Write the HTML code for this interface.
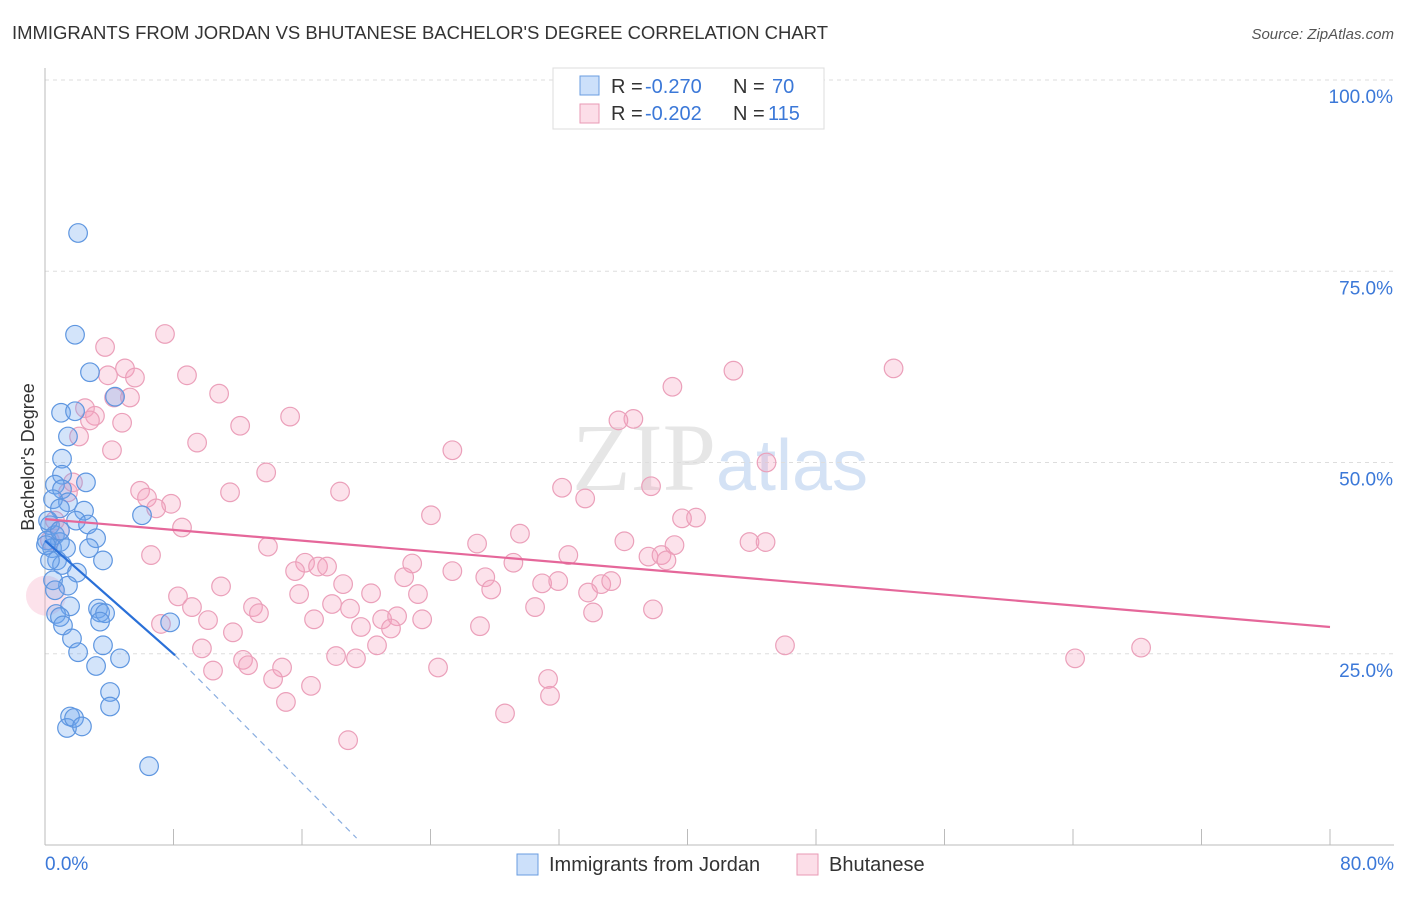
<!DOCTYPE html>
<html><head><meta charset="utf-8"><style>
body{margin:0;background:#fff;font-family:"Liberation Sans",sans-serif;}
</style></head><body>
<svg id="chart" width="1406" height="892" xmlns="http://www.w3.org/2000/svg" font-family="Liberation Sans, sans-serif">
<text x="12" y="39" font-size="18.5" fill="#333" textLength="816">IMMIGRANTS FROM JORDAN VS BHUTANESE BACHELOR'S DEGREE CORRELATION CHART</text>
<text x="1394" y="39" font-size="15" fill="#555" text-anchor="end" font-style="italic">Source: ZipAtlas.com</text>
<text x="720" y="490" font-size="96" fill="#e6e6e6" text-anchor="middle" font-family="Liberation Serif, serif">ZIP<tspan fill="#d4e2f5" font-family="Liberation Sans, sans-serif" font-size="72">atlas</tspan></text>
<g id="grid"></g><g id="axes"></g><g id="pts"></g><g id="trends"></g>
<text transform="translate(34,457) rotate(-90)" font-size="18" fill="#333" text-anchor="middle">Bachelor's Degree</text>
<g>
<rect x="553" y="68" width="271" height="61" fill="#fff" stroke="#ddd"/>
<rect x="580" y="76" width="19" height="19" fill="rgba(110,165,240,0.35)" stroke="#6a9de0"/>
<rect x="580" y="104" width="19" height="19" fill="rgba(245,160,190,0.35)" stroke="#e99ab5"/>
<text x="611" y="93" font-size="20" fill="#333">R =</text>
<text x="645" y="93" font-size="20" fill="#3b78d8">-0.270</text>
<text x="733" y="93" font-size="20" fill="#333">N =</text>
<text x="772" y="93" font-size="20" fill="#3b78d8">70</text>
<text x="611" y="120" font-size="20" fill="#333">R =</text>
<text x="645" y="120" font-size="20" fill="#3b78d8">-0.202</text>
<text x="733" y="120" font-size="20" fill="#333">N =</text>
<text x="768" y="120" font-size="20" fill="#3b78d8">115</text>
</g>
<g>
<rect x="517" y="854" width="21" height="21" fill="rgba(110,165,240,0.35)" stroke="#6a9de0"/>
<text x="549" y="871" font-size="20" fill="#333">Immigrants from Jordan</text>
<rect x="797" y="854" width="21" height="21" fill="rgba(245,160,190,0.35)" stroke="#e99ab5"/>
<text x="829" y="871" font-size="20" fill="#333">Bhutanese</text>
</g>
</svg>
<script>
const blueX=[2.06,1.87,2.80,4.36,1.0,1.87,1.43,1.06,1.06,2.55,0.62,1.06,1.43,2.43,0.5,0.93,6.04,1.93,2.68,0.31,0.62,3.18,0.93,0.12,0.44,2.74,1.31,3.61,0.75,1.06,1.99,1.43,0.5,3.3,1.56,0.69,3.43,3.74,0.93,1.12,3.43,1.68,7.79,3.61,2.06,3.18,4.67,4.05,4.05,1.56,1.37,1.81,2.3,6.48,0.31,0.19,0.62,0.93,0.06];
const blueY=[80.0,66.7,61.8,58.6,56.5,56.7,53.4,50.5,48.4,47.4,47.1,46.5,44.8,43.7,45.2,44.0,43.1,42.4,41.9,41.8,40.5,40.1,39.6,39.8,38.8,38.8,38.8,37.2,37.2,36.6,35.6,33.9,34.6,30.9,31.2,30.2,30.4,30.3,29.8,28.7,29.2,27.0,29.1,26.1,25.2,23.4,24.4,20.0,18.1,16.8,15.3,16.6,15.5,10.3,37.2,42.4,33.3,41.1,39.2];
const pinkX=[3.74,7.47,4.98,5.6,8.84,3.92,4.3,5.29,2.49,3.11,2.8,4.8,2.12,10.84,12.15,15.26,9.47,4.17,42.86,39.06,52.83,36.63,35.7,25.36,44.92,13.77,5.92,6.35,7.85,6.92,1.74,1.43,11.52,18.37,32.19,33.63,37.73,8.53,24.03,29.57,39.66,40.53,26.9,13.88,6.6,36.07,39.19,43.86,44.86,32.58,37.57,38.38,38.69,29.16,16.19,15.57,17.0,17.56,22.86,22.36,25.36,27.41,27.78,18.56,10.96,30.95,31.95,34.63,35.25,33.81,8.28,15.82,20.3,23.22,9.15,12.95,17.87,18.99,13.32,16.75,10.15,20.99,21.92,23.48,30.51,34.12,37.85,7.22,19.67,21.54,27.08,11.7,9.77,20.67,46.07,68.24,64.13,12.33,12.64,18.12,19.36,10.46,14.76,24.47,14.2,16.56,31.32,31.44,15.0,28.64,18.87,0.93,0.62,0.31];
const pinkY=[65.1,66.8,62.3,61.1,61.4,61.4,58.5,58.5,57.1,56.1,55.5,55.2,53.4,59.0,54.8,56.0,52.6,51.6,62.0,59.9,62.3,55.7,55.5,51.6,50.0,48.7,46.3,45.4,44.6,44.0,47.4,46.1,46.1,46.2,46.7,45.3,46.9,41.5,43.1,40.7,42.7,42.8,39.4,39.0,37.9,39.7,39.2,39.6,39.6,37.9,37.7,37.9,37.2,36.9,36.9,35.8,36.4,36.4,36.8,35.0,35.8,35.0,33.4,34.1,33.8,34.2,34.5,34.1,34.5,33.0,32.5,32.8,32.9,32.8,31.1,31.1,31.5,30.9,30.3,29.5,29.4,29.5,29.9,29.5,31.1,30.4,30.8,28.9,28.5,28.3,28.6,27.8,25.7,26.1,26.1,25.8,24.4,24.2,23.5,24.7,24.4,22.8,23.2,23.2,21.7,20.8,21.7,19.5,18.7,17.2,13.7,41.1,42.4,39.8];
const bigPink=[0.06,32.6];
const blueTrend=[[0,39.8],[8.1,24.8]];
const blueDash=[[8.1,24.8],[19.4,0.9]];
const pinkTrend=[[0,42.6],[80,28.5]];
const yTicks=[25,50,75,100];
const xTicks=[0,8,16,24,32,40,48,56,64,72,80];
const sx=v=>45+v*(1285/80);
const sy=v=>845-v*(765/100);
const NS='http://www.w3.org/2000/svg';
function mk(parent,tag,attrs){const e=document.createElementNS(NS,tag);for(const k in attrs)e.setAttribute(k,attrs[k]);document.getElementById(parent).appendChild(e);return e;}
yTicks.forEach(t=>{
 const l=mk('grid','line',{x1:45,x2:1394,y1:sy(t),y2:sy(t),stroke:'#ddd','stroke-dasharray':'4,4'});
 
 
 const tx=mk('grid','text',{x:1393,y:sy(t)+23,'font-size':19,fill:'#3b78d8','text-anchor':'end'});
 tx.textContent=t.toFixed(1)+'%';
 
 
});
const ax=mk('axes','line',{x1:45,x2:45,y1:68,y2:845,stroke:'#bbb'});


const bx=mk('axes','line',{x1:45,x2:1394,y1:845,y2:845,stroke:'#bbb'});


xTicks.forEach(t=>{
 const l=mk('axes','line',{x1:sx(t),x2:sx(t),y1:829,y2:845,stroke:'#bbb'});
 
 
});
[[0,'start'],[80,'end']].forEach(([t,a])=>{
 const tx=mk('axes','text',{x:t===0?45:1394,y:870,'font-size':19,fill:'#3b78d8','text-anchor':a});
 tx.textContent=t.toFixed(1)+'%';
 
 
});
pinkX.forEach((x,i)=>{
 const c=mk('pts','circle',{cx:sx(x),cy:sy(pinkY[i]),r:9.3,fill:'rgba(245,160,190,0.3)',stroke:'#eba0ba','stroke-width':1.2});
 
 
});
const bp=mk('pts','circle',{cx:sx(bigPink[0]),cy:sy(bigPink[1]),r:20,fill:'rgba(245,160,190,0.3)',stroke:'none'});


blueX.forEach((x,i)=>{
 const c=mk('pts','circle',{cx:sx(x),cy:sy(blueY[i]),r:9.3,fill:'rgba(110,165,240,0.3)',stroke:'#5e96e0','stroke-width':1.2});
 
 
});
const t1=mk('trends','line',{x1:sx(pinkTrend[0][0]),y1:sy(pinkTrend[0][1]),x2:sx(pinkTrend[1][0]),y2:sy(pinkTrend[1][1]),stroke:'#e5679a','stroke-width':2.2});


const t2=mk('trends','line',{x1:sx(blueTrend[0][0]),y1:sy(blueTrend[0][1]),x2:sx(blueTrend[1][0]),y2:sy(blueTrend[1][1]),stroke:'#2a70d8','stroke-width':2.2});


const t3=mk('trends','line',{x1:sx(blueDash[0][0]),y1:sy(blueDash[0][1]),x2:sx(blueDash[1][0]),y2:sy(blueDash[1][1]),stroke:'#8aaee0','stroke-width':1.2,'stroke-dasharray':'6,5'});


</script>
</body></html>
